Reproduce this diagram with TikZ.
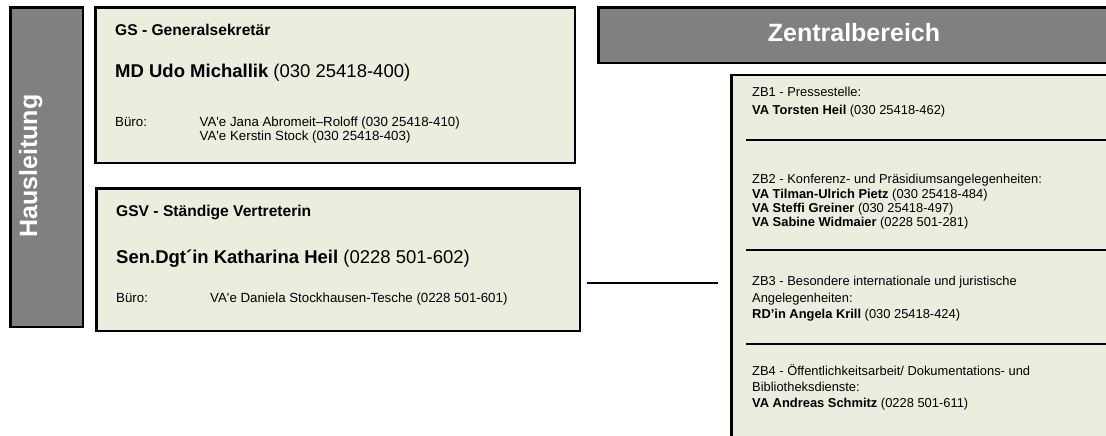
\documentclass[tikz,border=0pt]{standalone}
\usepackage{fontspec}
\newfontfamily\arialf{Liberation Sans}
\definecolor{boxfill}{HTML}{EBEEDF}
\definecolor{headgrey}{HTML}{808080}
\newcommand\fsz[1]{\arialf\fontsize{#1}{#1}\selectfont}
\begin{document}
\begin{tikzpicture}[x=1pt,y=-1pt,
  box/.style={draw=black, line width=2.5pt, fill=boxfill, anchor=north west, inner sep=0pt},
  headbox/.style={draw=black, line width=2.5pt, fill=headgrey, anchor=north west, inner sep=0pt},
  headtxt/.style={text=white, inner sep=0pt, font=\fsz{25}\bfseries},
  titletxt/.style={anchor=base west, inner sep=0pt, font=\fsz{15.6}\bfseries},
  nametxt/.style={anchor=base west, inner sep=0pt, font=\fsz{18.5}},
  smalltxt/.style={anchor=base west, inner sep=0pt, font=\fsz{13.3}},
  zbtxt/.style={anchor=base west, inner sep=0pt, font=\fsz{12.9}},
  divider/.style={line width=2pt},
  conn/.style={line width=2pt}]
\useasboundingbox (0,0) rectangle (1106,436);
\clip (0,0) rectangle (1106,436);

% boxes
\node[headbox, minimum width=72.5pt, minimum height=319.5pt] (hl) at (9.25,6.25) {};
\node[box, minimum width=479.5pt, minimum height=155.5pt] (gs) at (94.25,6.25) {};
\node[box, minimum width=483.5pt, minimum height=142.5pt] (gsv) at (95.25,187.25) {};
\node[headbox, minimum width=515pt, minimum height=55.5pt] (zbh) at (597.25,6.25) {};
\node[box, minimum width=400pt, minimum height=380pt] (zb) at (730.25,74) {};

% header texts
\node[headtxt, rotate=90, anchor=base] (hltxt) at (37,166) {Hausleitung};
\node[headtxt, anchor=base] (zbhtxt) at (854,41.7) {Zentralbereich};

% GS
\node[titletxt] (gs1) at (115,35.5) {GS - Generalsekretär};
\node[nametxt] (gs2) at (115,77.3) {\bfseries MD Udo Michallik\mdseries{} (030 25418-400)};
\node[smalltxt] (gs3) at (115,126.7) {Büro:};
\node[smalltxt] (gs4) at (199.5,126.7) {VA'e Jana Abromeit–Roloff (030 25418-410)};
\node[smalltxt] (gs5) at (199.5,140) {VA'e Kerstin Stock (030 25418-403)};

% GSV
\node[titletxt] (gsv1) at (116,216) {GSV - Ständige Vertreterin};
\node[nametxt] (gsv2) at (116,263) {\bfseries Sen.Dgt´in Katharina Heil\mdseries{} (0228 501-602)};
\node[smalltxt] (gsv3) at (116,302) {Büro:};
\node[smalltxt] (gsv4) at (210,302) {VA'e Daniela Stockhausen-Tesche (0228 501-601)};

% ZB entries
\node[zbtxt] (zb11) at (752,96.7) {ZB1 - Pressestelle:};
\node[zbtxt] (zb12) at (752,114) {\bfseries VA Torsten Heil\mdseries{} (030 25418-462)};

\node[zbtxt] (zb21) at (752,183.3) {ZB2 - Konferenz- und Präsidiumsangelegenheiten:};
\node[zbtxt] (zb22) at (752,198.3) {\bfseries VA Tilman-Ulrich Pietz\mdseries{} (030 25418-484)};
\node[zbtxt] (zb23) at (752,212.7) {\bfseries VA Steffi Greiner\mdseries{} (030 25418-497)};
\node[zbtxt] (zb24) at (752,226.7) {\bfseries VA Sabine Widmaier\mdseries{} (0228 501-281)};

\node[zbtxt] (zb31) at (752,285) {ZB3 - Besondere internationale und juristische};
\node[zbtxt] (zb32) at (752,302) {Angelegenheiten:};
\node[zbtxt] (zb33) at (752,318) {\bfseries RD’in Angela Krill\mdseries{} (030 25418-424)};

\node[zbtxt] (zb41) at (752,375) {ZB4 - Öffentlichkeitsarbeit/ Dokumentations- und};
\node[zbtxt] (zb42) at (752,391) {Bibliotheksdienste:};
\node[zbtxt] (zb43) at (752,407) {\bfseries VA Andreas Schmitz\mdseries{} (0228 501-611)};

% dividers
\coordinate (d1a) at (746,140); \coordinate (d1b) at (1130,140);
\coordinate (d2a) at (746,250); \coordinate (d2b) at (1130,250);
\coordinate (d3a) at (746,344); \coordinate (d3b) at (1130,344);
\draw[divider] (d1a) -- (d1b);
\draw[divider] (d2a) -- (d2b);
\draw[divider] (d3a) -- (d3b);

% connector
\coordinate (cl) at (587,283);
\coordinate (cr) at (718,283);
\draw[conn] (cl) -- (cr);
\end{tikzpicture}
\end{document}
